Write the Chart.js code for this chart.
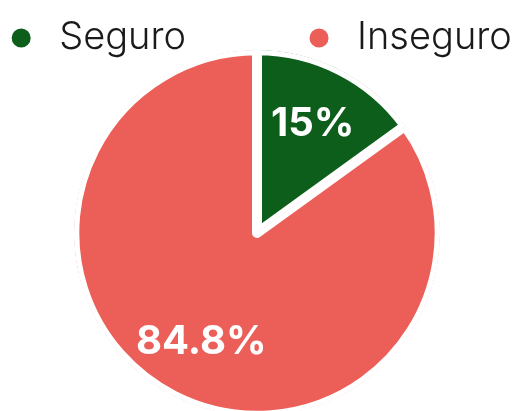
<!DOCTYPE html>
<html><head><meta charset="utf-8">
<script src="https://cdn.jsdelivr.net/npm/chart.js@4.4.0/dist/chart.umd.min.js"></script>
<style>html,body{margin:0;padding:0;background:#fff}#wrap{width:517px;height:411px}</style>
</head><body><div id="wrap"><canvas id="c"></canvas></div>
<script>
const categories = ['Seguro', 'Inseguro'];
const values = [15, 84.8];
const valueLabels = ['15%', '84.8%'];
const colors = ['#0d5e1a', '#ec5e58'];

const labelPlugin = {
  id: 'sliceLabels',
  afterDatasetsDraw(chart) {
    const ctx = chart.ctx;
    const meta = chart.getDatasetMeta(0);
    ctx.save();
    ctx.font = '700 40px Inter';
    ctx.fillStyle = '#ffffff';
    ctx.textAlign = 'center';
    ctx.textBaseline = 'middle';
    meta.data.forEach((arc, i) => {
      const p = arc.getProps(['x', 'y', 'startAngle', 'endAngle', 'outerRadius'], true);
      const mid = (p.startAngle + p.endAngle) / 2;
      const r = p.outerRadius * 0.67;
      ctx.fillText(valueLabels[i], p.x + Math.cos(mid) * r, p.y + Math.sin(mid) * r);
    });
    ctx.restore();
  }
};

new Chart(document.getElementById('c'), {
  type: 'pie',
  data: {
    labels: categories,
    datasets: [{
      data: values,
      backgroundColor: colors,
      borderColor: '#ffffff',
      borderWidth: 5,
      borderAlign: 'inner',
      hoverOffset: 0
    }]
  },
  options: {
    responsive: true,
    maintainAspectRatio: false,
    animation: false,
    radius: 183,
    layout: { padding: { top: 19, bottom: 12, left: 0, right: 3 } },
    plugins: {
      tooltip: { enabled: false },
      legend: {
        position: 'top',
        labels: {
          usePointStyle: true,
          pointStyle: 'circle',
          boxWidth: 38,
          boxHeight: 17,
          padding: 0,
          color: '#1a1a1a',
          font: { family: 'Inter', size: 38, weight: '300' },
          generateLabels(chart) {
            const items = Chart.overrides.pie.plugins.legend.labels.generateLabels(chart);
            items[0].text = items[0].text + '\u2003\u2003\u2003';
            return items;
          }
        }
      }
    }
  },
  plugins: [labelPlugin]
});
</script>
</body></html>
